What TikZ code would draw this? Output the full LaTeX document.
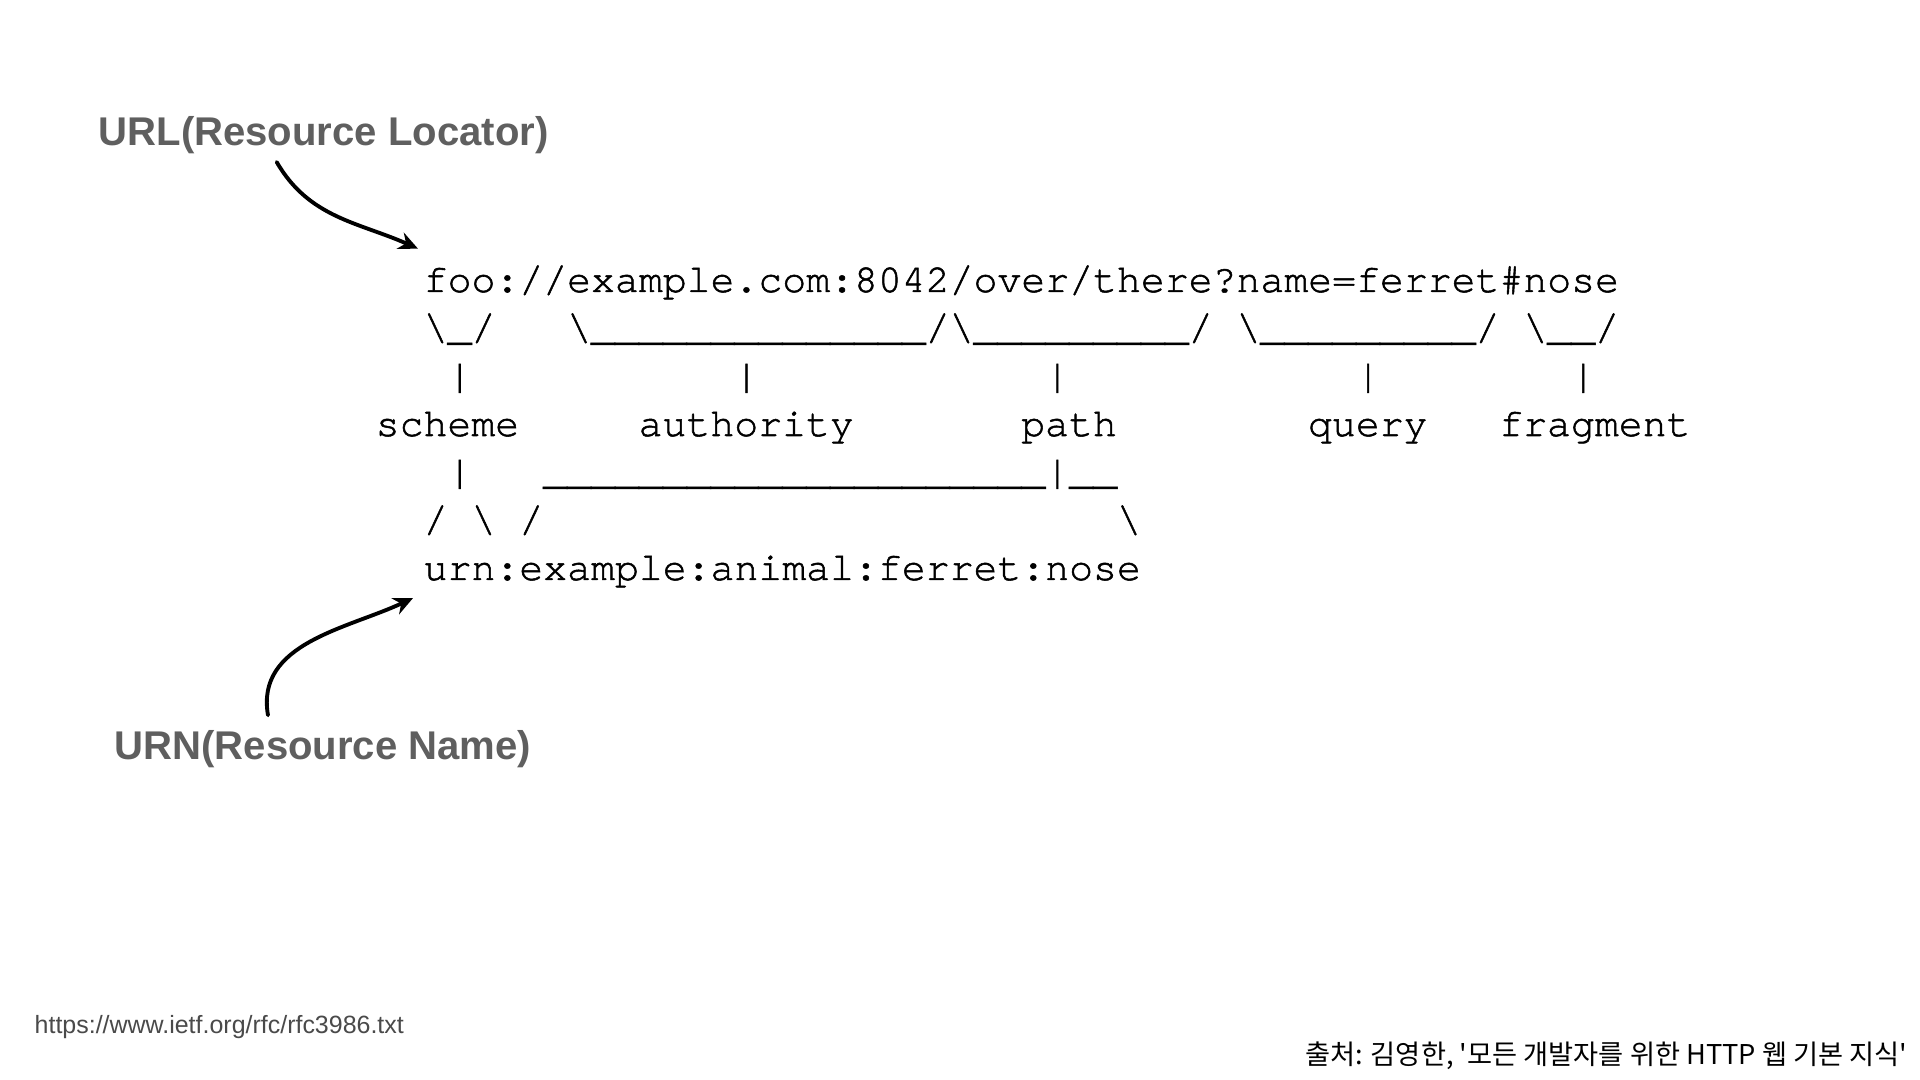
\documentclass[tikz,border=0pt]{standalone}
\usepackage{fontspec}
\setmainfont{Liberation Sans}
\setmonofont[FakeBold=1.3]{TeX Gyre Cursor}
\newfontfamily\krfont{Noto Sans CJK KR}
\usetikzlibrary{positioning,calc,arrows.meta}
\definecolor{labelgray}{HTML}{5F5F5F}
\definecolor{notegray}{HTML}{4A4A4A}
\newcommand{\bsl}{\symbol{92}}
\tikzset{
  asc/.style={anchor=base west, inner sep=0pt, font=\ttfamily\fontsize{11.33}{13.6}\selectfont},
  title/.style={anchor=base west, inner sep=0pt, text=labelgray, font=\bfseries\fontsize{11.4}{13.7}\selectfont},
  pointer/.style={line width=1.1pt, line cap=round, -{Stealth[length=5.5pt,width=5pt]}}
}

\begin{document}
\begin{tikzpicture}[x=0.01cm,y=0.01cm]
    \fill[white] (0,0) rectangle (1920,-1080);
    \useasboundingbox (0,0) rectangle (1920,-1080);

    % rfc 3986 example
    \node[asc] at (423,-292) (l1) {foo://example.com:8042/over/there?name=ferret\#nose};
    \node[asc] at (423,-340) (l2) {\bsl\_/~~~\bsl\_\_\_\_\_\_\_\_\_\_\_\_\_\_/\bsl\_\_\_\_\_\_\_\_\_/~\bsl\_\_\_\_\_\_\_\_\_/~\bsl\_\_/};
    \node[asc] at (447,-388) (l3) {|~~~~~~~~~~~|~~~~~~~~~~~~|~~~~~~~~~~~~|~~~~~~~~|};
    \node[asc] at (375,-436) (l4) {scheme~~~~~authority~~~~~~~path~~~~~~~~query~~~fragment};
    \node[asc] at (447,-484) (l5) {|~~~\_\_\_\_\_\_\_\_\_\_\_\_\_\_\_\_\_\_\_\_\_|\_\_};
    \node[asc] at (423,-532) (l6) {/~\bsl~/~~~~~~~~~~~~~~~~~~~~~~~~\bsl};
    \node[asc] at (423,-580) (l7) {urn:example:animal:ferret:nose};

    \node[title] at (98,-146) (url) {URL(Resource Locator)};
    \node[title] at (114,-760) (urn) {URN(Resource Name)};
    \draw[pointer] ([shift={(-47,-7)}]url.south) to[out=-60,in=156] ([shift={(-5,16)}]l1.north west);
    \draw[pointer] ([shift={(-55,15)}]urn.north) to[out=100,in=-155] ([shift={(-10,-10)}]l7.south west);

    % footer
    \node[anchor=base west, inner sep=0pt, text=notegray, font=\fontsize{7.1}{8.5}\selectfont] at (34,-1034) (src) {https://www.ietf.org/rfc/rfc3986.txt};
    \node[anchor=base east, inner sep=0pt, font=\fontsize{7.75}{9.3}\selectfont] at (1908,-1065) (book) {\krfont 출처: 김영한, \textquotesingle 모든 개발자를 위한 HTTP 웹 기본 지식\textquotesingle};
\end{tikzpicture}
\end{document}
